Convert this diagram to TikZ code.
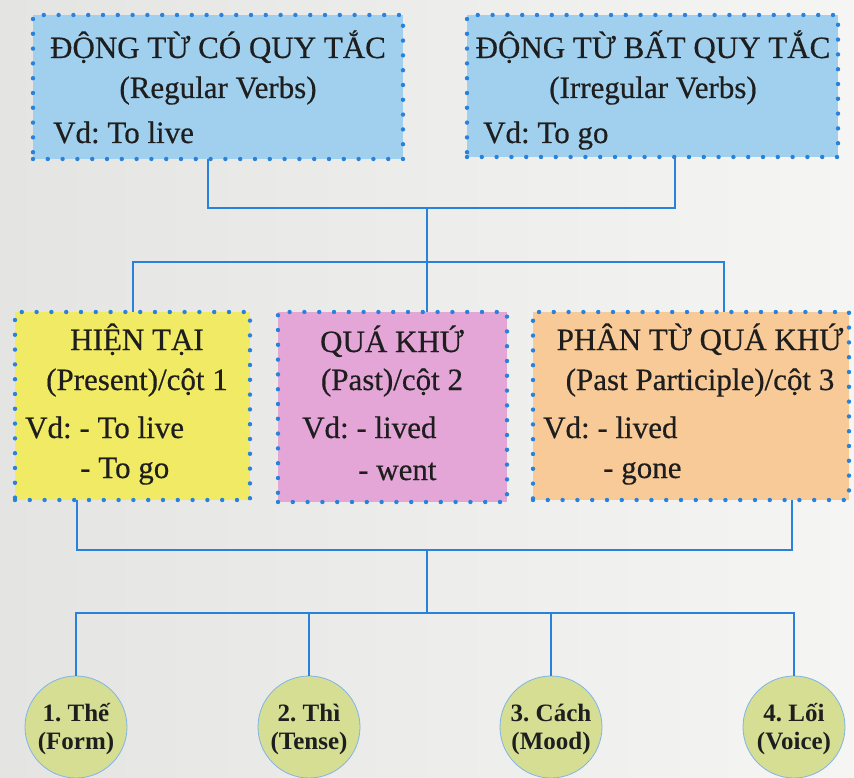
\documentclass[tikz,border=0pt]{standalone}
\usepackage{fontspec}
\usetikzlibrary{decorations.markings}
\setmainfont{Liberation Serif}
\newfontfamily\boxfont{Liberation Serif}[FakeBold=0.5]
\frenchspacing
\definecolor{bgL}{RGB}{228,228,227}
\definecolor{bgR}{RGB}{245,245,243}
\definecolor{boxblue}{RGB}{160,208,238}
\definecolor{boxyellow}{RGB}{240,234,100}
\definecolor{boxpink}{RGB}{228,165,215}
\definecolor{boxpeach}{RGB}{247,202,152}
\definecolor{circgreen}{RGB}{214,222,148}
\definecolor{dotblue}{RGB}{40,130,220}
\definecolor{txtdark}{RGB}{30,30,30}
\tikzset{
  vbox/.style={rectangle, inner sep=0pt,
    postaction={decorate, decoration={markings,
      mark=between positions 0 and 1 step 14.8pt with {\fill[dotblue] (0,0) circle (2.2pt);}}}},
  conn/.style={draw=dotblue, line width=2.8pt},
  btxt/.style={inner sep=0pt, anchor=base, text=txtdark,
    font=\boxfont\fontsize{31}{34}\selectfont\frenchspacing},
  ltxt/.style={btxt, anchor=base west},
  circnode/.style={circle, fill=circgreen, draw=dotblue!60, line width=0.8pt,
    minimum size=102pt, inner sep=0pt, align=center, text=txtdark,
    font=\fontsize{25}{28}\selectfont\bfseries}
}
\newcommand{\toprule}{\rule{0pt}{23pt}}
\newcommand{\botrule}{\rule[-6pt]{0pt}{6pt}}
\begin{document}
\begin{tikzpicture}[x=1pt,y=-1pt]
\useasboundingbox (0,0) rectangle (854,778);
\shade[left color=bgL, right color=bgR] (0,0) rectangle (854,778);

% top boxes
\node[vbox, fill=boxblue, minimum width=370pt, minimum height=144pt] (tl) at (218,87) {};
\node[vbox, fill=boxblue, minimum width=371pt, minimum height=142pt] (tr) at (652.5,86) {};
\node[btxt] (tl1) at (218,58) {ĐỘNG TỪ CÓ QUY TẮC};
\node[btxt] (tl2) at (218,98) {(Regular Verbs)};
\node[ltxt] (tl3) at (53,143) {Vd: To live};
\node[btxt] (tr1) at (653,58) {ĐỘNG TỪ BẤT QUY TẮC};
\node[btxt] (tr2) at (653,98) {(Irregular Verbs)};
\node[ltxt] (tr3) at (483,143) {Vd: To go};

% middle boxes
\node[vbox, fill=boxyellow, minimum width=235pt, minimum height=188pt] (m1) at (132.5,406) {};
\node[vbox, fill=boxpink, minimum width=229pt, minimum height=190pt] (m2) at (392.5,407) {};
\node[vbox, fill=boxpeach, minimum width=316pt, minimum height=188pt] (m3) at (691,406) {};
\node[btxt] (m1a) at (137,350) {HIỆN TẠI};
\node[btxt] (m1b) at (137,390) {(Present)/cột 1};
\node[ltxt] (m1c) at (25,438) {Vd: - To live};
\node[ltxt] (m1d) at (80,478) {- To go};
\node[btxt] (m2a) at (392,352) {QUÁ KHỨ};
\node[btxt] (m2b) at (392,390) {(Past)/cột 2};
\node[ltxt] (m2c) at (302,438) {Vd: - lived};
\node[ltxt] (m2d) at (358,480) {- went};
\node[btxt] (m3a) at (700,350) {PHÂN TỪ QUÁ KHỨ};
\node[btxt] (m3b) at (700,390) {(Past Participle)/cột 3};
\node[ltxt] (m3c) at (543,438) {Vd: - lived};
\node[ltxt] (m3d) at (603,478) {- gone};

% circles
\node[circnode] (e1) at (76,727) {\toprule 1. Thế\\(Form)\botrule};
\node[circnode] (e2) at (309,727) {\toprule 2. Thì\\(Tense)\botrule};
\node[circnode] (e3) at (551,727) {\toprule 3. Cách\\(Mood)\botrule};
\node[circnode] (e4) at (794,727) {\toprule 4. Lối\\(Voice)\botrule};

% junction coordinates
\coordinate (a1) at (208,208);
\coordinate (a2) at (675,208);
\coordinate (a0) at (427,208);
\coordinate (b0) at (427,262);
\coordinate (b1) at (133,262);
\coordinate (b3) at (724,262);
\coordinate (c1) at (77,550);
\coordinate (c3) at (792,550);
\coordinate (c0) at (427,550);
\coordinate (d0) at (427,613);

% connectors
\draw[conn] (tl.south -| a1) -- (a1) -- (a2) -- (tr.south -| a2);
\draw[conn] (a0) -- (b0);
\draw[conn] (m1.north -| b1) -- (b1) -- (b3) -- (m3.north -| b3);
\draw[conn] (b0) -- (m2.north -| b0);
\draw[conn] (m1.south -| c1) -- (c1) -- (c3) -- (m3.south -| c3);
\draw[conn] (c0) -- (d0);
\draw[conn] (e1.north) -- (e1.north |- d0) -- (e4.north |- d0) -- (e4.north);
\draw[conn] (e2.north) -- (e2.north |- d0);
\draw[conn] (e3.north) -- (e3.north |- d0);
\end{tikzpicture}
\end{document}
